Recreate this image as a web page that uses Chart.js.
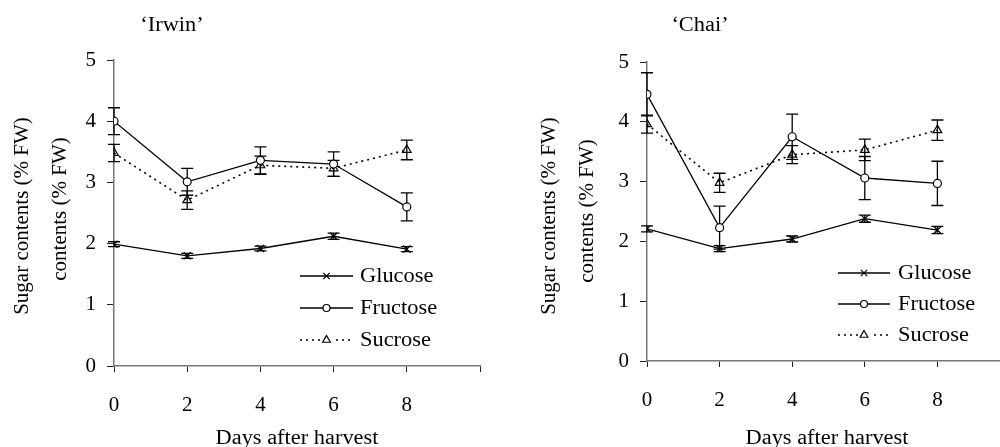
<!DOCTYPE html>
<html>
<head>
<meta charset="utf-8">
<script src="https://cdn.jsdelivr.net/npm/chart.js@4.4.1/dist/chart.umd.min.js"></script>
<style>
  html, body { margin: 0; padding: 0; background: #fff; overflow: hidden; width: 1000px; height: 447px; }
  canvas { position: absolute; top: 0; }
  #irwin { left: 0; }
  #chai { left: 500px; }
</style>
</head>
<body>
<canvas id="irwin" width="500" height="447"></canvas>
<canvas id="chai" width="520" height="447"></canvas>
<script>
// Days after harvest
const days = [0, 2, 4, 6, 8];
const xTicks = [0, 2, 4, 6, 8];
const yTicks = [0, 1, 2, 3, 4, 5];
const seriesNames = ['Glucose', 'Fructose', 'Sucrose'];

// 'Irwin' sugar contents (% FW) and standard errors
const irwinGlucose = [1.99, 1.80, 1.92, 2.12, 1.91];
const irwinGlucoseErr = [0.04, 0.04, 0.04, 0.05, 0.04];
const irwinFructose = [4.00, 3.01, 3.36, 3.30, 2.60];
const irwinFructoseErr = [0.22, 0.22, 0.22, 0.20, 0.23];
const irwinSucrose = [3.48, 2.71, 3.28, 3.23, 3.53];
const irwinSucroseErr = [0.14, 0.15, 0.15, 0.13, 0.16];

// 'Chai' sugar contents (% FW) and standard errors
const chaiGlucose = [2.21, 1.88, 2.04, 2.38, 2.19];
const chaiGlucoseErr = [0.05, 0.05, 0.05, 0.06, 0.06];
const chaiFructose = [4.46, 2.23, 3.75, 3.06, 2.97];
const chaiFructoseErr = [0.36, 0.36, 0.38, 0.36, 0.37];
const chaiSucrose = [3.96, 2.98, 3.45, 3.53, 3.86];
const chaiSucroseErr = [0.15, 0.16, 0.15, 0.18, 0.17];

const FONT = '"Liberation Serif", "Times New Roman", serif';
const STRETCH = 1.12; // horizontal text is set slightly wide

const pts = (vals) => vals.map((v, i) => ({ x: days[i], y: v }));

function makeDatasets(glu, gluErr, fru, fruErr, suc, sucErr) {
  return [
    { label: seriesNames[0], data: pts(glu), err: gluErr,
      borderColor: '#000', backgroundColor: '#000', borderWidth: 1.3,
      pointStyle: 'crossRot', pointRadius: 5, pointBorderWidth: 1.3, pointBorderColor: '#000' },
    { label: seriesNames[1], data: pts(fru), err: fruErr,
      borderColor: '#000', backgroundColor: '#fff', borderWidth: 1.3,
      pointStyle: 'circle', pointRadius: 4, pointBorderWidth: 1.2, pointBackgroundColor: '#fff', pointBorderColor: '#000' },
    { label: seriesNames[2], data: pts(suc), err: sucErr,
      borderColor: '#000', backgroundColor: 'rgba(0,0,0,0)', borderWidth: 1.6, borderDash: [2, 4],
      pointStyle: 'triangle', pointRadius: 5, pointBorderWidth: 1.2, pointBackgroundColor: 'rgba(0,0,0,0)', pointBorderColor: '#000' }
  ];
}

// Vertical error bars with caps, drawn from each dataset's err array
const errorBars = {
  id: 'errorBars',
  beforeDatasetsDraw(chart) {
    const { ctx, scales: { x, y } } = chart;
    ctx.save();
    ctx.strokeStyle = '#000';
    ctx.lineWidth = 1.3;
    chart.data.datasets.forEach(ds => {
      ds.data.forEach((p, i) => {
        const e = ds.err[i];
        const px = x.getPixelForValue(p.x);
        const top = y.getPixelForValue(p.y + e);
        const bot = y.getPixelForValue(p.y - e);
        ctx.beginPath();
        ctx.moveTo(px, top); ctx.lineTo(px, bot);
        ctx.moveTo(px - 6, top); ctx.lineTo(px + 6, top);
        ctx.moveTo(px - 6, bot); ctx.lineTo(px + 6, bot);
        ctx.stroke();
      });
    });
    ctx.restore();
  }
};

// horizontally widened text
function wideText(ctx, text, x, y, align) {
  ctx.save();
  ctx.translate(x, y);
  ctx.scale(STRETCH, 1);
  ctx.textAlign = align;
  ctx.fillText(text, 0, 0);
  ctx.restore();
}

// Titles, axis titles and the line-marker-line legend
const annotations = {
  id: 'annotations',
  afterDraw(chart, args, opts) {
    const { ctx } = chart;
    ctx.save();
    ctx.fillStyle = '#000';
    ctx.textBaseline = 'alphabetic';

    ctx.font = '20px ' + FONT;
    wideText(ctx, opts.title, opts.titleX, opts.titleY, 'center');
    wideText(ctx, 'Days after harvest', opts.xTitleX, opts.xTitleY, 'center');

    ctx.font = '21px ' + FONT;
    ctx.textAlign = 'center';
    ctx.textBaseline = 'middle';
    opts.yTitles.forEach(t => {
      ctx.save();
      ctx.translate(t.x, t.y);
      ctx.rotate(-Math.PI / 2);
      ctx.fillText(t.text, 0, 0);
      ctx.restore();
    });

    // legend
    const lg = opts.legend;
    ctx.font = '20px ' + FONT;
    chart.data.datasets.forEach((ds, i) => {
      const ry = lg.y + i * lg.gap;
      ctx.save();
      ctx.strokeStyle = '#000';
      ctx.lineWidth = ds.borderWidth;
      ctx.setLineDash(ds.borderDash || []);
      ctx.beginPath();
      ctx.moveTo(lg.x1, ry); ctx.lineTo(lg.x2, ry);
      ctx.stroke();
      ctx.restore();
      const mx = (lg.x1 + lg.x2) / 2;
      ctx.save();
      ctx.lineWidth = 1.2;
      ctx.strokeStyle = '#000';
      ctx.fillStyle = '#fff';
      if (ds.pointStyle === 'triangle') {
        ctx.fillRect(mx - 6, ry - 5, 12, 10);
      }
      Chart.helpers.drawPoint(ctx, {
        pointStyle: ds.pointStyle, radius: ds.pointStyle === 'circle' ? 3.5 : 4.5,
        borderWidth: 1.2, rotation: 0
      }, mx, ry);
      ctx.restore();
      ctx.fillStyle = '#000';
      ctx.textBaseline = 'middle';
      wideText(ctx, ds.label, lg.tx, ry + 1, 'left');
    });
    ctx.restore();
  }
};

function makeChart(id, datasets, geom, ann) {
  return new Chart(document.getElementById(id), {
    type: 'line',
    data: { datasets },
    plugins: [errorBars, annotations],
    options: {
      responsive: false,
      animation: false,
      devicePixelRatio: 1,
      layout: { padding: { top: geom.top, right: geom.right, left: 0, bottom: 0 } },
      plugins: { legend: { display: false }, tooltip: { enabled: false }, annotations: ann },
      elements: { line: { tension: 0 } },
      scales: {
        x: {
          type: 'linear', min: 0, max: 10,
          afterFit: s => { s.height = geom.xH; s.paddingRight = 0; s.paddingLeft = 0; },
          afterBuildTicks: s => { s.ticks = xTicks.concat([10]).map(v => ({ value: v })); },
          ticks: {
            callback: v => (xTicks.includes(v) ? String(v) : ''),
            color: '#000', font: { family: FONT, size: 21 }, padding: 21, maxRotation: 0
          },
          grid: { drawOnChartArea: false, drawTicks: true, tickLength: 6, color: '#222', lineWidth: 1 },
          border: { display: true, color: '#777', width: 1.5 }
        },
        y: {
          type: 'linear', min: 0, max: 5,
          afterFit: s => { s.width = geom.yW; },
          afterBuildTicks: s => { s.ticks = yTicks.map(v => ({ value: v })); },
          ticks: { color: '#000', font: { family: FONT, size: 21 }, padding: 11 },
          grid: { drawOnChartArea: false, drawTicks: true, tickLength: 7, color: '#222', lineWidth: 1 },
          border: { display: true, color: '#777', width: 1.5 }
        }
      }
    }
  });
}

makeChart('irwin',
  makeDatasets(irwinGlucose, irwinGlucoseErr, irwinFructose, irwinFructoseErr, irwinSucrose, irwinSucroseErr),
  { top: 60, right: 20, xH: 81, yW: 114 },
  {
    title: '\u2018Irwin\u2019', titleX: 172, titleY: 31,
    xTitleX: 297, xTitleY: 444,
    yTitles: [
      { text: 'Sugar contents (% FW)', x: 22, y: 216 },
      { text: 'contents (% FW)', x: 60, y: 209 }
    ],
    legend: { x1: 300, x2: 353, tx: 360, y: 276, gap: 32 }
  });

makeChart('chai',
  makeDatasets(chaiGlucose, chaiGlucoseErr, chaiFructose, chaiFructoseErr, chaiSucrose, chaiSucroseErr),
  { top: 62, right: 10, xH: 86, yW: 147 },
  {
    title: '\u2018Chai\u2019', titleX: 200, titleY: 31,
    xTitleX: 327, xTitleY: 444,
    yTitles: [
      { text: 'Sugar contents (% FW)', x: 49, y: 216 },
      { text: 'contents (% FW)', x: 87, y: 211 }
    ],
    legend: { x1: 338, x2: 390, tx: 398, y: 273, gap: 31 }
  });
</script>
</body>
</html>
